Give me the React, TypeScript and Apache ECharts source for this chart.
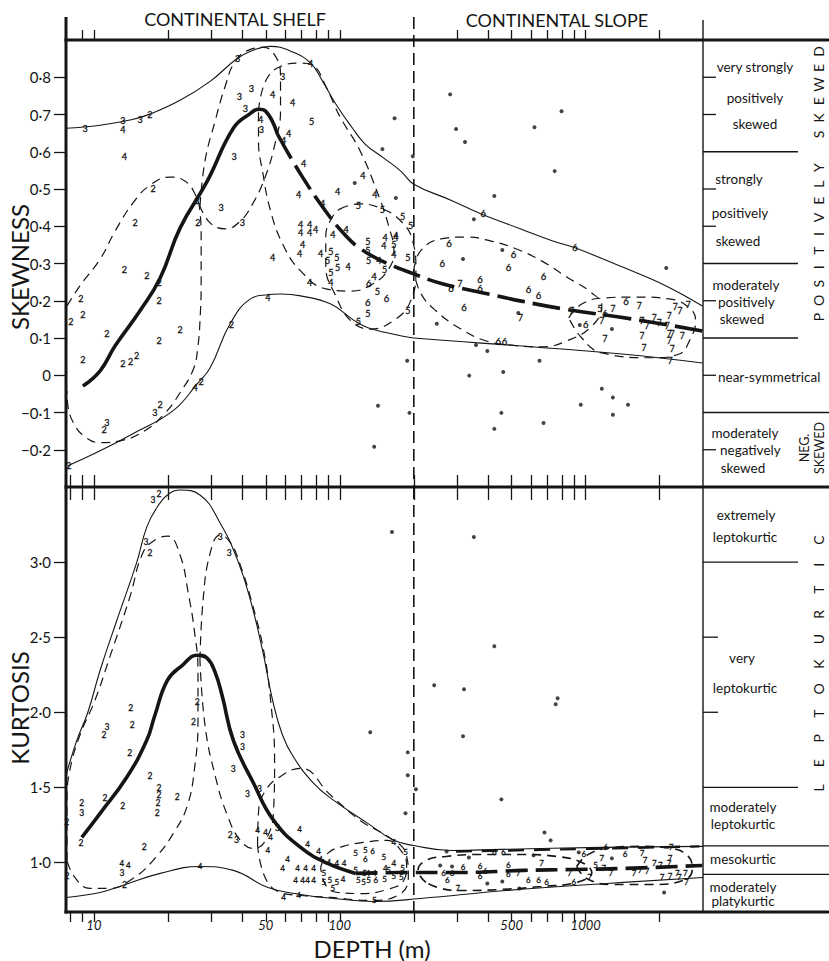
import React, { useEffect, useRef } from "react";
import * as echarts from "echarts";

const INK = "#151515";
const FONT = "Lato, 'Open Sans', 'DejaVu Sans', sans-serif";

// ---------- axes ----------
const depthMin = 7.7;
const depthMax = 3000;
const skewMin = -0.3;
const skewMax = 0.9;
const kurtMin = 0.67;
const kurtMax = 3.5;

const depthTicks = [8, 9, 10, 20, 30, 40, 50, 60, 70, 80, 90, 100, 200, 300, 400, 500, 600, 700, 800, 900, 1000, 2000];
const depthTopTicks = [9, 10, 20, 30, 40, 50, 60, 70, 80, 90, 100, 300, 400, 500, 600, 700, 800, 900, 1000, 2000];
const depthLabels = [10, 50, 100, 500, 1000];
const skewTicks = [-0.2, -0.1, 0, 0.1, 0.2, 0.3, 0.4, 0.5, 0.6, 0.7, 0.8];
const kurtTicks = [1.0, 1.5, 2.0, 2.5, 3.0];
const shelfBreakDepth = 200;

// classification scale (right-hand column)
const skewClassBounds = [0.6, 0.3, 0.1];
const skewSignBounds = [-0.1];
const skewClassTicks = [0.8, 0.7, 0.5, 0.4, 0.2, 0, -0.2];
const kurtClassBounds = [3.0, 1.5];
const kurtMesoBounds = [1.11, 0.92];
const kurtClassTicks = [2.5, 2.0];

// ---------- SKEWNESS panel ----------
const skewUpperEnvelope = [
  [7.7, 0.663], [10.6, 0.671], [14.0, 0.685], [16.9, 0.701], [22.4, 0.738], [29.7, 0.789], [38.4, 0.851],
  [45.4, 0.875], [52.3, 0.883], [63.1, 0.87], [76.1, 0.838], [85.2, 0.789], [96.3, 0.728], [111, 0.669],
  [127, 0.62], [151, 0.583], [177, 0.548], [200, 0.513], [283, 0.47], [376, 0.433], [548, 0.392],
  [740, 0.36], [905, 0.342], [1404, 0.291], [2046, 0.245], [2982, 0.186],
];
const skewLowerEnvelope = [
  [7.84, -0.243], [10.6, -0.203], [14.4, -0.157], [21.0, -0.095], [26.3, -0.023], [29.7, 0.02], [35.8, 0.138],
  [43.3, 0.205], [50.9, 0.216], [57.4, 0.218], [69.3, 0.213], [91.9, 0.191], [115, 0.146], [131, 0.127],
  [177, 0.106], [200, 0.1], [620, 0.076], [1404, 0.057], [2982, 0.033],
];
const skewTrendSolid = [
  [9.02, -0.029], [10.6, 0.012], [12.2, 0.079], [15.4, 0.173], [18.6, 0.261], [22.4, 0.395], [28.9, 0.521],
  [36.9, 0.663], [43.3, 0.703], [46.7, 0.714], [49.9, 0.709], [55.8, 0.647],
];
const skewTrendDashed = [
  [55.8, 0.647], [69.3, 0.54], [89.3, 0.433], [106, 0.374], [120, 0.342], [148, 0.307], [200, 0.272],
  [263, 0.245], [384, 0.221], [548, 0.199], [813, 0.178], [1543, 0.151], [2982, 0.119],
];
const skewField2 = [
  [7.77, 0.186], [8.77, 0.24], [10.6, 0.312], [12.2, 0.387], [14.4, 0.462], [16.9, 0.51], [20.4, 0.532],
  [23.5, 0.521], [25.8, 0.486], [27.0, 0.441], [27.3, 0.36], [27.3, 0.253], [27.0, 0.146], [26.5, 0.079],
  [25.4, 0.017], [22.4, -0.047], [19.5, -0.101], [16.1, -0.149], [12.8, -0.176], [10.6, -0.181],
  [9.19, -0.165], [8.29, -0.13], [7.84, -0.082], [7.77, -0.042],
];
const skewField3 = [
  [27.0, 0.454], [28.3, 0.575], [31.1, 0.682], [34.2, 0.776], [37.6, 0.843], [43.3, 0.875], [49.0, 0.88],
  [54.8, 0.856], [57.4, 0.803], [57.4, 0.709], [54.8, 0.628], [49.9, 0.535], [44.2, 0.46], [39.4, 0.414],
  [34.2, 0.393], [29.7, 0.409], [27.0, 0.454],
];
const skewField4 = [
  [46.7, 0.709], [49.9, 0.789], [57.4, 0.829], [69.3, 0.838], [77.6, 0.832], [87.7, 0.776], [100, 0.695],
  [121, 0.602], [144, 0.481], [158, 0.401], [166, 0.334], [158, 0.285], [136, 0.245], [111, 0.226],
  [87.7, 0.232], [69.3, 0.28], [59.1, 0.347], [52.3, 0.441], [48.5, 0.548], [46.7, 0.628], [46.7, 0.709],
];
const skewField5 = [
  [100, 0.446], [119, 0.46], [146, 0.449], [177, 0.414], [198, 0.36], [204, 0.28], [194, 0.199], [169, 0.151],
  [133, 0.124], [111, 0.146], [96.3, 0.213], [87.7, 0.293], [87.7, 0.374], [93.7, 0.427], [100, 0.446],
];
const skewField6 = [
  [200, 0.28], [213, 0.334], [258, 0.366], [326, 0.371], [413, 0.36], [523, 0.339], [661, 0.307], [837, 0.264],
  [1059, 0.221], [1163, 0.186], [1059, 0.132], [837, 0.092], [661, 0.076], [499, 0.081], [394, 0.092],
  [311, 0.124], [246, 0.173], [213, 0.221], [200, 0.28],
];
const skewField7 = [
  [853, 0.154], [964, 0.191], [1163, 0.207], [1590, 0.21], [2185, 0.205], [2640, 0.181], [2800, 0.146],
  [2640, 0.092], [2400, 0.057], [1862, 0.047], [1163, 0.06], [964, 0.1], [853, 0.154],
];

const skewSamples2 = [
  [16.9, 0.701], [17.4, 0.502], [14.7, 0.409], [26.5, 0.409], [26.3, 0.468], [13.3, 0.283], [16.4, 0.267],
  [18.4, 0.248], [18.4, 0.202], [8.85, 0.205], [8.06, 0.143], [9.02, 0.162], [11.3, 0.111], [22.4, 0.122],
  [18.4, 0.092], [9.02, 0.041], [13.1, 0.031], [14.1, 0.036], [14.9, 0.052], [11.0, -0.146], [18.6, -0.079],
  [27.3, -0.018], [7.9, -0.243], [36.2, 0.135],
];
const skewSamples3 = [
  [9.2, 0.663], [13.1, 0.685], [15.4, 0.687], [38.4, 0.851], [39.0, 0.749], [43.7, 0.771], [58.5, 0.803],
  [41.3, 0.717], [48.0, 0.661], [37.2, 0.588], [32.9, 0.449], [40.2, 0.411], [11.3, -0.127], [17.7, -0.101],
];
const skewSamples4 = [
  [13.1, 0.661], [13.3, 0.588], [53.3, 0.754], [76.1, 0.838], [64.3, 0.733], [47.6, 0.687], [61.9, 0.65],
  [59.1, 0.631], [71.3, 0.569], [68.0, 0.486], [85.2, 0.462], [98.0, 0.494], [124, 0.535], [139, 0.486],
  [169, 0.374], [69.3, 0.406], [75.4, 0.406], [69.3, 0.382], [75.4, 0.382], [79.8, 0.39], [70.6, 0.352],
  [53.3, 0.317], [68.6, 0.326], [83.6, 0.328], [108, 0.291], [75.4, 0.25], [91.9, 0.248], [93.7, 0.379],
  [106, 0.39], [153, 0.371], [169, 0.371], [151, 0.347], [166, 0.325], [144, 0.309], [138, 0.266],
  [51.0, 0.21], [25.8, -0.034],
];
const skewSamples5 = [
  [76.8, 0.682], [119, 0.457], [149, 0.446], [180, 0.425], [194, 0.403], [91.9, 0.331], [89.3, 0.309],
  [97.2, 0.315], [91.9, 0.275], [98.0, 0.288], [130, 0.36], [130, 0.336], [131, 0.309], [166, 0.35],
  [189, 0.315], [152, 0.285], [142, 0.224], [130, 0.167], [119, 0.143], [189, 0.175], [1141, 0.178],
];
const skewSamples6 = [
  [131, 0.245], [155, 0.207], [130, 0.194], [383, 0.435], [278, 0.355], [261, 0.299], [509, 0.325],
  [485, 0.288], [674, 0.266], [905, 0.342], [283, 0.234], [372, 0.258], [372, 0.232], [585, 0.229],
  [643, 0.213], [320, 0.181], [1197, 0.165], [1459, 0.199], [1000, 0.135], [441, 0.09], [468, 0.09],
];
const skewSamples7 = [
  [308, 0.245], [543, 0.154], [877, 0.173], [1290, 0.178], [1650, 0.186], [1163, 0.146], [1695, 0.146],
  [1777, 0.132], [1901, 0.154], [1989, 0.14], [2145, 0.132], [2185, 0.159], [2313, 0.183], [2420, 0.173],
  [2614, 0.189], [2185, 0.111], [2248, 0.111], [2470, 0.106], [1197, 0.098], [1695, 0.106], [1727, 0.074],
  [2185, 0.092], [2248, 0.071], [2206, 0.039],
];
const skewUngrouped = [
  [167, 0.69], [149, 0.607], [198, 0.588], [115, 0.516], [169, 0.476], [281, 0.754], [798, 0.709],
  [297, 0.661], [323, 0.626], [619, 0.666], [748, 0.548], [425, 0.481], [351, 0.419], [317, 0.312],
  [458, 0.336], [532, 0.167], [248, 0.138], [358, 0.081], [398, 0.065], [188, 0.039], [336, -0.001],
  [462, 0.009], [649, 0.039], [192, -0.101], [454, -0.101], [425, -0.144], [674, -0.128], [1163, -0.036],
  [1290, -0.06], [955, -0.079], [1486, -0.079], [1290, -0.106], [2125, 0.288], [946, 0.135], [1278, 0.124],
  [143, -0.082], [138, -0.192],
];

// ---------- KURTOSIS panel ----------
const kurtUpperEnvelope = [
  [7.7, 1.58], [8.52, 1.813], [9.45, 2.0], [10.6, 2.28], [12.4, 2.613], [14.9, 2.993], [16.4, 3.233],
  [18.1, 3.367], [20.4, 3.46], [22.4, 3.48], [27.0, 3.447], [32.6, 3.26], [38.4, 3.013], [43.3, 2.747],
  [48.5, 2.413], [53.3, 2.08], [58.5, 1.847], [64.9, 1.7], [78.3, 1.527], [94.5, 1.413], [130, 1.26],
  [166, 1.147], [200, 1.113], [283, 1.08], [454, 1.087], [1163, 1.1], [3000, 1.107],
];
const kurtLowerEnvelope = [
  [7.7, 0.767], [10.6, 0.8], [13.1, 0.847], [18.6, 0.927], [27.0, 0.973], [36.9, 0.947], [51.0, 0.833],
  [69.3, 0.787], [94.5, 0.76], [138, 0.74], [213, 0.76], [476, 0.813], [1219, 0.86], [3000, 0.9],
];
const kurtTrendSolid = [
  [8.93, 1.167], [10.6, 1.327], [13.6, 1.567], [16.4, 1.813], [17.7, 1.98], [19.9, 2.213], [22.9, 2.313],
  [26.3, 2.38], [28.9, 2.36], [31.1, 2.267], [33.2, 2.113], [36.9, 1.813], [44.6, 1.527], [53.8, 1.28],
  [69.3, 1.1], [89.3, 0.993], [116, 0.927],
];
const kurtTrendDashed = [
  [116, 0.927], [194, 0.933], [305, 0.933], [559, 0.947], [894, 0.953], [1432, 0.96], [2982, 0.98],
];
const kurtBandTop = [[297, 1.073], [798, 1.087], [2900, 1.107]];
const kurtField2 = [
  [7.77, 1.013], [7.77, 1.413], [7.98, 1.613], [8.77, 1.847], [10.1, 2.08], [11.6, 2.367], [14.0, 2.767],
  [15.8, 3.06], [17.7, 3.147], [20.0, 3.173], [22.4, 3.047], [24.2, 2.793], [25.6, 2.547], [26.5, 2.28],
  [26.5, 1.947], [25.6, 1.613], [24.0, 1.38], [21.4, 1.213], [17.7, 1.027], [14.4, 0.893], [11.6, 0.827],
  [9.63, 0.827], [8.37, 0.9], [7.77, 1.013],
];
const kurtField3 = [
  [27.0, 2.347], [27.8, 2.747], [29.7, 3.06], [32.6, 3.18], [35.8, 3.133], [39.4, 2.98], [44.2, 2.713],
  [49.0, 2.413], [52.3, 2.08], [54.3, 1.68], [53.8, 1.347], [49.9, 1.147], [44.6, 1.093], [39.4, 1.147],
  [34.9, 1.313], [31.1, 1.58], [28.3, 1.913], [27.0, 2.347],
];
const kurtField4 = [
  [46.3, 1.113], [46.7, 1.333], [49.9, 1.48], [57.4, 1.573], [69.3, 1.627], [91.9, 1.447], [121, 1.28],
  [161, 1.16], [185, 1.067], [190, 0.913], [177, 0.793], [133, 0.747], [91.9, 0.767], [69.3, 0.78],
  [57.4, 0.8], [49.9, 0.893], [46.3, 1.113],
];
const kurtField5 = [
  [83.6, 0.967], [89.3, 1.06], [103, 1.107], [125, 1.133], [156, 1.147], [177, 1.08], [187, 0.98],
  [182, 0.88], [156, 0.82], [121, 0.793], [98.0, 0.8], [87.7, 0.847], [83.6, 0.967],
];
const kurtField6 = [
  [224, 0.867], [208, 0.947], [224, 1.013], [270, 1.04], [376, 1.053], [548, 1.053], [762, 1.04],
  [964, 1.0], [1059, 0.933], [919, 0.867], [661, 0.84], [454, 0.82], [311, 0.813], [258, 0.827], [224, 0.867],
];
const kurtField7 = [
  [919, 0.973], [1010, 1.047], [1219, 1.093], [1695, 1.107], [2248, 1.093], [2614, 1.04], [2714, 0.96],
  [2544, 0.887], [1862, 0.853], [1278, 0.853], [1010, 0.893], [919, 0.973],
];

const kurtSamples2 = [
  [18.4, 3.453], [16.9, 3.06], [14.1, 2.027], [26.3, 2.067], [11.0, 1.847], [14.3, 1.913], [14.0, 1.727],
  [16.9, 1.573], [11.1, 1.427], [13.1, 1.373], [8.93, 1.393], [7.75, 1.267], [8.85, 1.127], [16.0, 1.1],
  [18.4, 1.493], [18.4, 1.447], [18.2, 1.393], [18.1, 1.327], [21.8, 1.433], [7.77, 0.913], [13.3, 0.847],
  [25.4, 1.933], [35.8, 1.18],
];
const kurtSamples3 = [
  [17.4, 3.413], [16.3, 3.133], [32.6, 3.167], [35.5, 3.06], [40.2, 1.847], [40.2, 1.767], [36.9, 1.62],
  [42.1, 1.453], [47.1, 1.487], [38.0, 1.147], [55.8, 1.227], [11.3, 1.9], [8.93, 1.327], [13.0, 0.933],
];
const kurtSamples4 = [
  [13.0, 0.993], [13.8, 0.98], [46.3, 1.213], [49.9, 1.2], [52.3, 1.167], [51.0, 1.08], [68.6, 1.22],
  [74.0, 1.12], [82.0, 1.073], [61.3, 1.02], [58.5, 0.96], [67.4, 0.96], [72.6, 0.96], [78.3, 0.96],
  [66.1, 0.88], [70.6, 0.88], [74.0, 0.88], [78.3, 0.88], [83.6, 1.02], [90.2, 1.0], [97.2, 0.993],
  [104, 0.993], [103, 0.887], [130, 0.933], [138, 0.933], [153, 0.96], [166, 0.993], [166, 1.133],
  [59.1, 0.767], [68.0, 0.78], [27.0, 0.973],
];
const kurtSamples5 = [
  [116, 1.06], [127, 1.08], [151, 1.033], [86.0, 0.927], [86.0, 0.867], [91.1, 0.88], [97.2, 0.867],
  [93.7, 0.833], [116, 0.947], [119, 0.88], [126, 0.927], [125, 0.867], [131, 0.88], [152, 0.887],
  [158, 0.947], [166, 0.907], [178, 0.9], [180, 0.96], [185, 1.067], [138, 0.747], [1098, 0.98],
];
const kurtSamples6 = [
  [136, 1.073], [127, 1.02], [140, 0.88], [425, 1.067], [462, 1.067], [264, 0.933], [286, 0.933],
  [317, 0.967], [274, 0.88], [372, 0.973], [391, 0.94], [372, 0.907], [485, 0.98], [485, 0.92],
  [585, 0.88], [643, 0.88], [693, 0.873], [982, 1.053], [894, 0.867], [1208, 1.1], [1445, 1.053],
];
const kurtSamples7 = [
  [532, 0.933], [661, 0.993], [860, 0.927], [302, 0.827], [1163, 1.027], [1185, 0.96], [1038, 0.9],
  [1265, 0.927], [1695, 1.06], [1744, 1.013], [1901, 0.993], [2010, 0.98], [2185, 0.993], [2206, 1.027],
  [1574, 0.927], [1665, 0.953], [1777, 0.94], [2046, 0.9], [2206, 0.907], [2357, 0.933], [2402, 0.9],
  [2544, 0.933], [2568, 0.867], [2227, 1.1],
];
const kurtUngrouped = [
  [163, 3.2], [351, 3.167], [425, 2.44], [242, 2.18], [320, 2.153], [769, 2.093], [755, 2.053], [133, 1.867],
  [189, 1.733], [189, 1.58], [204, 1.487], [185, 1.327], [317, 1.84], [454, 1.42], [680, 1.2], [720, 1.147],
  [2085, 0.8], [272, 1.073], [335, 1.033], [614, 1.047], [937, 1.067], [1278, 1.027], [256, 0.98],
  [286, 0.973], [398, 0.86], [458, 0.873], [537, 0.827],
];

// ---------- helpers ----------
const fmtAxis = (v: number) => {
  if (Math.abs(v) < 1e-9) return "0";
  return (v < 0 ? "\u2212" : "") + Math.abs(v).toFixed(1).replace(".", "\u00B7");
};

const curve = (data: number[][], xi: number, yi: number, width: number, dash?: number[], smooth = 0.45) => ({
  type: "line",
  xAxisIndex: xi,
  yAxisIndex: yi,
  data,
  symbol: "none",
  smooth,
  silent: true,
  itemStyle: { color: INK },
  lineStyle: { color: INK, width, type: dash ? dash : "solid", cap: "butt" },
  z: 3,
});

// sample numbers drawn as text glyphs at the data position
const sampleLabels = (data: number[][], xi: number, yi: number, text: string, size = 9) => ({
  type: "custom",
  xAxisIndex: xi,
  yAxisIndex: yi,
  data,
  silent: true,
  clip: false,
  z: 6,
  itemStyle: { color: INK },
  renderItem: (_p: any, api: any) => {
    const pt = api.coord([api.value(0), api.value(1)]);
    return {
      type: "text",
      x: pt[0],
      y: pt[1],
      style: {
        text,
        fill: INK,
        stroke: INK,
        lineWidth: 0.3,
        fontSize: size,
        fontFamily: FONT,
        align: "center",
        verticalAlign: "middle",
        textAlign: "center",
        textVerticalAlign: "middle",
      },
    };
  },
});

const dots = (data: number[][], xi: number, yi: number) => ({
  type: "scatter",
  xAxisIndex: xi,
  yAxisIndex: yi,
  data,
  symbolSize: 4,
  silent: true,
  itemStyle: { color: INK },
  z: 6,
});

const columnLines = (values: number[], xi: number, yi: number, len: number, width: number) => ({
  type: "custom",
  xAxisIndex: xi,
  yAxisIndex: yi,
  clip: false,
  silent: true,
  itemStyle: { color: INK },
  data: values.map((v) => [depthMax, v]),
  renderItem: (_p: any, api: any) => {
    const pt = api.coord([api.value(0), api.value(1)]);
    return {
      type: "line",
      shape: { x1: pt[0], y1: pt[1], x2: pt[0] + len, y2: pt[1] },
      style: { stroke: INK, lineWidth: width },
    };
  },
});

const breakLine = (xi: number, yi: number, yTop: number, yBottom: number, extendUp: number) => ({
  type: "custom",
  xAxisIndex: xi,
  yAxisIndex: yi,
  clip: false,
  silent: true,
  itemStyle: { color: INK },
  data: [[shelfBreakDepth, yTop, yBottom]],
  renderItem: (_p: any, api: any) => {
    const a = api.coord([api.value(0), api.value(1)]);
    const b = api.coord([api.value(0), api.value(2)]);
    return {
      type: "line",
      shape: { x1: a[0], y1: a[1] - extendUp, x2: b[0], y2: b[1] },
      style: { stroke: INK, lineWidth: 1.6, lineDash: [12, 6] },
    };
  },
});

// ---------- layout-only text ----------
const skewColumnText = [
  { t: "very strongly", x: 755, y: 67, a: "center" },
  { t: "positively", x: 755, y: 98, a: "center" },
  { t: "skewed", x: 755, y: 124, a: "center" },
  { t: "strongly", x: 739, y: 179, a: "center" },
  { t: "positively", x: 740, y: 213, a: "center" },
  { t: "skewed", x: 738, y: 241, a: "center" },
  { t: "moderately", x: 746, y: 285, a: "center" },
  { t: "positively", x: 718, y: 302, a: "left" },
  { t: "skewed", x: 742, y: 319, a: "center" },
  { t: "near-symmetrical", x: 718, y: 377, a: "left" },
  { t: "moderately", x: 745, y: 433, a: "center" },
  { t: "negatively", x: 720, y: 450, a: "left" },
  { t: "skewed", x: 743, y: 468, a: "center" },
];
const kurtColumnText = [
  { t: "extremely", x: 746, y: 515, a: "center" },
  { t: "leptokurtic", x: 745, y: 537, a: "center" },
  { t: "very", x: 742, y: 658, a: "center" },
  { t: "leptokurtic", x: 745, y: 688, a: "center" },
  { t: "moderately", x: 743, y: 807, a: "center" },
  { t: "leptokurtic", x: 743, y: 824, a: "center" },
  { t: "mesokurtic", x: 743, y: 859, a: "center" },
  { t: "moderately", x: 743, y: 887, a: "center" },
  { t: "platykurtic", x: 743, y: 901, a: "center" },
];

const txt = (text: string, x: number, y: number, size: number, align = "center", extra: any = {}) => ({
  type: "text",
  x,
  y,
  silent: true,
  z: 20,
  ...extra,
  style: {
    text,
    fill: INK,
    fontSize: size,
    fontFamily: FONT,
    fontStyle: "normal",
    align,
    verticalAlign: "middle",
    textAlign: align,
    textVerticalAlign: "middle",
  },
});

const spaced = (word: string, x: number, yStart: number, step: number, size: number) =>
  word
    .split("")
    .map((ch, i) => (ch === " " ? null : txt(ch, x, yStart - i * step, size, "center", { rotation: Math.PI / 2 })))
    .filter(Boolean);

const hline = (x1: number, y1: number, x2: number, y2: number, w: number) => ({
  type: "line",
  silent: true,
  z: 15,
  shape: { x1, y1, x2, y2 },
  style: { stroke: INK, lineWidth: w },
});

export default function App() {
  const ref = useRef<HTMLDivElement>(null);

  useEffect(() => {
    if (!ref.current) return;
    const chart = echarts.init(ref.current, undefined, { renderer: "svg" });

    const tickStyle = { color: INK, width: 1.3 };
    const baseX = {
      type: "log",
      logBase: 10,
      min: depthMin,
      max: depthMax,
      axisLine: { show: false, onZero: false },
      splitLine: { show: false },
      axisLabel: { show: false },
    };

    const option: any = {
      animation: false,
      backgroundColor: "#ffffff",
      color: [INK],
      grid: [
        { left: 66, width: 637, top: 40, height: 447 },
        { left: 66, width: 637, top: 487, height: 425 },
      ],
      xAxis: [
        { ...baseX, gridIndex: 0, position: "top", axisTick: { show: true, customValues: depthTopTicks, length: 10, inside: false, lineStyle: tickStyle } },
        { ...baseX, gridIndex: 0, position: "bottom", axisTick: { show: true, customValues: depthTicks, length: 13, inside: false, lineStyle: tickStyle } },
        { ...baseX, gridIndex: 1, position: "top", axisTick: { show: true, customValues: depthTicks, length: 12, inside: false, lineStyle: tickStyle } },
        {
          ...baseX,
          gridIndex: 1,
          position: "bottom",
          axisTick: { show: true, customValues: depthTicks, length: 10, inside: false, lineStyle: tickStyle },
          axisLabel: {
            show: true,
            customValues: depthLabels,
            formatter: (v: number) => String(Math.round(v)),
            fontStyle: "italic",
            fontSize: 13,
            fontFamily: FONT,
            color: INK,
            margin: 6,
          },
        },
      ],
      yAxis: [
        {
          type: "value",
          gridIndex: 0,
          min: skewMin,
          max: skewMax,
          axisLine: { show: false, onZero: false },
          splitLine: { show: false },
          axisTick: { show: true, customValues: skewTicks, length: 12, lineStyle: tickStyle },
          axisLabel: { customValues: skewTicks, formatter: fmtAxis, fontSize: 15, fontFamily: FONT, color: INK, margin: 15 },
        },
        {
          type: "value",
          gridIndex: 1,
          min: kurtMin,
          max: kurtMax,
          axisLine: { show: false, onZero: false },
          splitLine: { show: false },
          axisTick: { show: true, customValues: kurtTicks, length: 12, lineStyle: tickStyle },
          axisLabel: { customValues: kurtTicks, formatter: fmtAxis, fontSize: 15, fontFamily: FONT, color: INK, margin: 15 },
        },
      ],
      series: [
        // skewness
        curve(skewUpperEnvelope, 0, 0, 1.1),
        curve(skewLowerEnvelope, 0, 0, 1.1),
        curve(skewTrendSolid, 0, 0, 3.6),
        curve(skewTrendDashed, 0, 0, 3.6, [28, 8]),
        curve(skewField2, 0, 0, 1.2, [9, 6]),
        curve(skewField3, 0, 0, 1.2, [9, 6]),
        curve(skewField4, 0, 0, 1.2, [9, 6]),
        curve(skewField5, 0, 0, 1.2, [9, 6]),
        curve(skewField6, 0, 0, 1.2, [9, 6]),
        curve(skewField7, 0, 0, 1.2, [9, 6]),
        sampleLabels(skewSamples2, 0, 0, "2"),
        sampleLabels(skewSamples3, 0, 0, "3"),
        sampleLabels(skewSamples4, 0, 0, "4"),
        sampleLabels(skewSamples5, 0, 0, "5"),
        sampleLabels(skewSamples6, 0, 0, "6", 9.5),
        sampleLabels(skewSamples7, 0, 0, "7", 8.5),
        dots(skewUngrouped, 0, 0),
        breakLine(0, 0, skewMax, skewMin, 23),
        columnLines(skewClassBounds, 0, 0, 95, 1.3),
        columnLines(skewSignBounds, 0, 0, 126, 1.3),
        columnLines(skewClassTicks, 0, 0, 13, 1.3),
        // kurtosis
        curve(kurtUpperEnvelope, 3, 1, 1.1),
        curve(kurtLowerEnvelope, 3, 1, 1.1),
        curve(kurtTrendSolid, 3, 1, 3.6),
        curve(kurtTrendDashed, 3, 1, 3.6, [22, 8]),
        curve(kurtBandTop, 3, 1, 2.4, [16, 10]),
        curve(kurtField2, 3, 1, 1.2, [9, 6]),
        curve(kurtField3, 3, 1, 1.2, [9, 6]),
        curve(kurtField4, 3, 1, 1.2, [9, 6]),
        curve(kurtField5, 3, 1, 1.2, [9, 6]),
        curve(kurtField6, 3, 1, 1.6, [9, 6]),
        curve(kurtField7, 3, 1, 1.6, [9, 6]),
        sampleLabels(kurtSamples2, 3, 1, "2", 8.5),
        sampleLabels(kurtSamples3, 3, 1, "3", 8.5),
        sampleLabels(kurtSamples4, 3, 1, "4", 8),
        sampleLabels(kurtSamples5, 3, 1, "5", 8),
        sampleLabels(kurtSamples6, 3, 1, "6", 8),
        sampleLabels(kurtSamples7, 3, 1, "7", 8),
        dots(kurtUngrouped, 3, 1),
        breakLine(3, 1, kurtMax, kurtMin, 0),
        columnLines(kurtClassBounds, 3, 1, 95, 1.3),
        columnLines(kurtMesoBounds, 3, 1, 126, 1.3),
        columnLines(kurtClassTicks, 3, 1, 15, 1.3),
      ],
      graphic: [
        // frame
        hline(66, 17, 66, 913.5, 3),
        hline(64.5, 40, 829, 40, 3),
        hline(64.5, 487, 829, 487, 3),
        hline(64.5, 912, 829, 912, 3),
        hline(703, 20, 703, 912, 1.4),
        // headings
        txt("CONTINENTAL SHELF", 235, 18.5, 18),
        txt("CONTINENTAL SLOPE", 557, 19.5, 18),
        txt("SKEWNESS", 19, 267, 24, "center", { rotation: Math.PI / 2 }),
        txt("KURTOSIS", 19, 708, 24, "center", { rotation: Math.PI / 2 }),
        txt("DEPTH (m)", 372, 948, 24),
        // classification column
        ...skewColumnText.map((c) => txt(c.t, c.x, c.y, 13.5, c.a)),
        ...kurtColumnText.map((c) => txt(c.t, c.x, c.y, 13.5, c.a)),
        ...spaced("POSITIVELY SKEWED", 818, 317, 16.6, 14),
        ...spaced("LEPTOKURTIC", 818, 788, 24.8, 14),
        txt("NEG.", 804, 448, 12.5, "center", { rotation: Math.PI / 2 }),
        txt("SKEWED", 819, 448, 12.5, "center", { rotation: Math.PI / 2 }),
      ],
    };

    chart.setOption(option);
    return () => chart.dispose();
  }, []);

  return (
    <div
      ref={ref}
      style={{ position: "absolute", left: 0, top: 0, width: 829, height: 961, background: "#fff" }}
    />
  );
}
